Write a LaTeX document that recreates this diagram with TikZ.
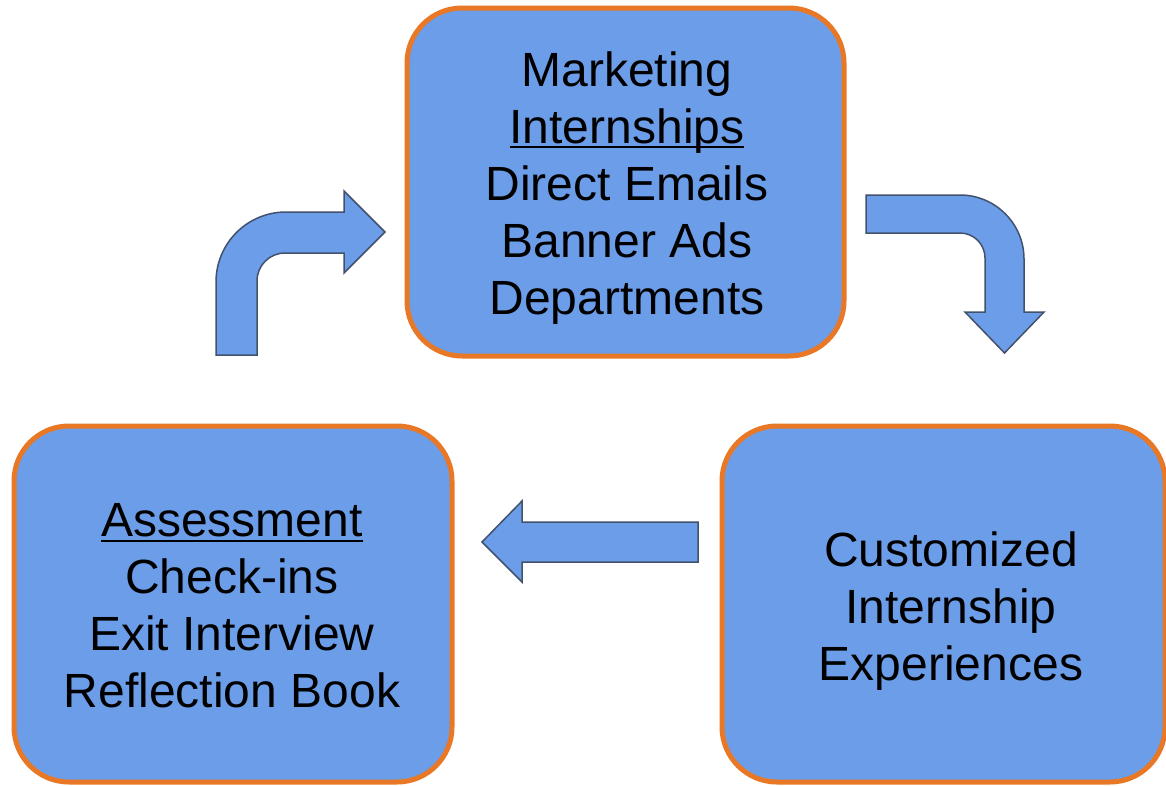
\documentclass[tikz,border=0pt]{standalone}
\usepackage{fontspec}
\setmainfont{Liberation Sans}
\definecolor{boxblue}{RGB}{108,157,232}
\definecolor{boxorange}{RGB}{232,120,38}
\definecolor{arrowedge}{RGB}{66,82,108}
\newcommand\myuline[1]{\leavevmode\setbox0\hbox{#1}\rlap{\rule[-5pt]{\wd0}{2pt}}\box0}
\tikzset{
  stagebox/.style={draw=boxorange, line width=5pt, fill=boxblue, rounded corners=55pt, inner sep=0pt},
  stagetext/.style={align=center, inner sep=0pt, font=\fontsize{48pt}{57pt}\selectfont},
  blockarrow/.style={draw=arrowedge, line width=1.5pt, fill=boxblue, line join=miter}
}
\begin{document}
\begin{tikzpicture}[x=1pt,y=-1pt]
\useasboundingbox (0,0) rectangle (1166,785);
\fill[white] (0,0) rectangle (1166,785);

% boxes
\node[stagebox, minimum width=437pt, minimum height=348pt] (mkt) at (625.5,182) {};
\node[stagebox, minimum width=438pt, minimum height=356pt] (assess) at (233,604) {};
\node[stagebox, minimum width=443pt, minimum height=356pt] (exper) at (943.5,604) {};

% texts
\node[stagetext] (mkttxt) at (627,188) {Marketing\\\myuline{Internships}\\Direct Emails\\Banner Ads\\Departments};
\node[stagetext] (assesstxt) at (232,606) {\myuline{Assessment}\\Check-ins\\Exit Interview\\Reflection Book};
\node[stagetext] (expertxt) at (951,611.5) {Customized\\Internship\\Experiences};

% bent arrow up-right (left)
\draw[blockarrow] (216,355) -- (216,282)
  .. controls (216,243.3) and (247.3,212) .. (286,212)
  -- (344,212) -- (344,191) -- (385,232) -- (344,273) -- (344,253)
  -- (285,253) .. controls (269.5,253) and (257,265.5) .. (257,281)
  -- (257,355) -- cycle;

% bent arrow right-down (right)
\draw[blockarrow] (866,195) -- (960,195)
  .. controls (995.3,195) and (1024,223.7) .. (1024,259)
  -- (1024,312) -- (1044,312) -- (1004.5,353) -- (965,312) -- (985,312)
  -- (985,258) .. controls (985,244.2) and (973.8,233) .. (960,233)
  -- (866,233) -- cycle;

% straight left arrow
\draw[blockarrow] (698,522) -- (522,522) -- (522,501) -- (482,542) -- (522,582) -- (522,562) -- (698,562) -- cycle;
\end{tikzpicture}
\end{document}
